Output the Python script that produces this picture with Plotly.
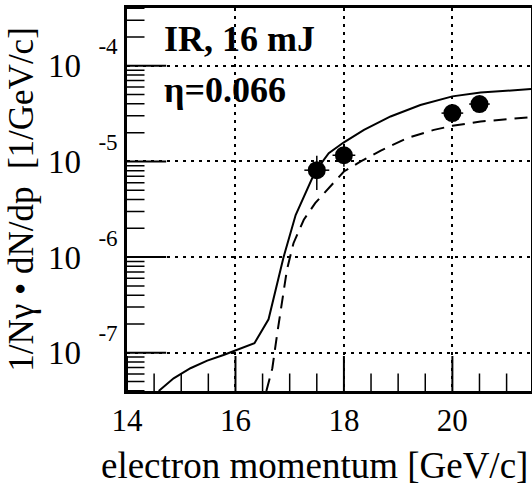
import plotly.graph_objects as go

# ---- data ----
solid_x = [14.585, 14.86, 15.17, 15.48, 15.78, 16.0, 16.35, 16.61, 16.89, 17.11, 17.32,
           17.47, 17.72, 18.0, 18.37, 18.86, 19.41, 20.0, 20.52, 21.45]
solid_logy = [-7.40, -7.267, -7.162, -7.083, -7.023, -6.978, -6.90, -6.65, -5.995, -5.56, -5.297,
              -5.106, -4.913, -4.80, -4.67, -4.53, -4.41, -4.32, -4.28, -4.244]

dash_x = [16.57, 16.68, 16.77, 16.86, 16.95, 17.07, 17.26, 17.47, 17.75, 18.0, 18.31,
          18.68, 19.17, 19.66, 20.0, 20.52, 21.45]
dash_logy = [-7.40, -7.162, -6.80, -6.45, -6.13, -5.855, -5.61, -5.436, -5.26, -5.105, -5.00,
             -4.886, -4.756, -4.67, -4.628, -4.583, -4.537]

pts_x = [17.5, 18.0, 20.0, 20.5]
pts_y = [8.1e-6, 1.16e-5, 3.2e-5, 3.98e-5]
pts_xerr = [0.23, 0.21, 0.2, 0.19]
pts_yerr_plus = [3.35e-6, 3.7e-6, 7.0e-6, 8.6e-6]
pts_yerr_minus = [3.06e-6, 2.8e-6, 5.8e-6, 7.1e-6]

x_range = [14, 21.45]
ylog_range = [-7.40, -3.396]
x_ticks = [14, 16, 18, 20]
x_minor = [14.5, 15, 15.5, 16.5, 17, 17.5, 18.5, 19, 19.5, 20.5, 21]
y_ticks = [1e-7, 1e-6, 1e-5, 1e-4]
y_exps = ["-7", "-6", "-5", "-4"]
y_minor = [m * 10.0 ** e for e in range(-8, -3) for m in range(2, 10)]

y_ticktext = ["10<sup>\u2002\u2005<span style='baseline-shift:9px'>%s</span></sup>" % e for e in y_exps]
solid_y = [10 ** v for v in solid_logy]
dash_y = [10 ** v for v in dash_logy]
y_bottom = 10 ** ylog_range[0]

FONT = "Liberation Serif"

fig = go.Figure()
fig.add_trace(go.Scatter(x=solid_x, y=solid_y, mode="lines",
                         line=dict(color="black", width=2), showlegend=False))
fig.add_trace(go.Scatter(x=dash_x, y=dash_y, mode="lines",
                         line=dict(color="black", width=2, dash="13px,8px"), showlegend=False))
fig.add_trace(go.Scatter(
    x=pts_x, y=pts_y, mode="markers",
    marker=dict(color="black", size=18),
    error_x=dict(type="data", array=pts_xerr, color="black", thickness=1.5, width=0),
    error_y=dict(type="data", symmetric=False, array=pts_yerr_plus, arrayminus=pts_yerr_minus,
                 color="black", thickness=1.5, width=0),
    showlegend=False))

# inside tick marks along the axes (major and minor), placed through the axis scales
def tick_trace(xs, ys, symbol, size, width):
    return go.Scatter(x=xs, y=ys, mode="markers", cliponaxis=True, showlegend=False,
                      hoverinfo="skip",
                      marker=dict(symbol=symbol, size=size, color="black",
                                  line=dict(color="black", width=width)))

fig.add_trace(tick_trace(x_ticks, [y_bottom] * len(x_ticks), "line-ns", 50, 2))
fig.add_trace(tick_trace(x_minor, [y_bottom] * len(x_minor), "line-ns", 25, 1.5))
fig.add_trace(tick_trace([x_range[0]] * len(y_ticks), y_ticks, "line-ew", 56, 2))
fig.add_trace(tick_trace([x_range[0]] * len(y_minor), y_minor, "line-ew", 25, 1.5))

fig.add_annotation(x=14.65, y=-3.718, xref="x", yref="y", text="<b>IR, 16 mJ</b>",
                   showarrow=False, xanchor="left", yanchor="middle",
                   font=dict(family=FONT, size=36, color="black"))
fig.add_annotation(x=14.65, y=-4.25, xref="x", yref="y", text="<b>η=0.066</b>",
                   showarrow=False, xanchor="left", yanchor="middle",
                   font=dict(family=FONT, size=36, color="black"))
fig.add_annotation(x=0.465, y=-0.135, xref="paper", yref="paper", yanchor="top",
                   text="electron momentum [GeV/c]", showarrow=False,
                   font=dict(family=FONT, size=37, color="black"))

fig.update_layout(
    width=532, height=493,
    margin=dict(l=127, r=1, t=8, b=102),
    paper_bgcolor="white", plot_bgcolor="white",
    font=dict(family=FONT, color="black"),
    xaxis=dict(
        range=x_range, tickmode="array", tickvals=x_ticks, ticks="",
        tickfont=dict(family=FONT, size=31, color="black"), ticklabelstandoff=0,
        showline=True, linecolor="black", linewidth=2.5, mirror=True,
        showgrid=True, gridcolor="black", gridwidth=2, griddash="3px,5px",
        zeroline=False, automargin=False,
    ),
    yaxis=dict(
        type="log", range=ylog_range, tickmode="array", tickvals=y_ticks, ticktext=y_ticktext,
        ticks="", tickfont=dict(family=FONT, size=33, color="black"),
        showline=True, linecolor="black", linewidth=2.5, mirror=True,
        showgrid=True, gridcolor="black", gridwidth=2, griddash="3px,5px",
        zeroline=False,
        title=dict(text="1/Nγ • dN/dp  [1/GeV/c]", font=dict(family=FONT, size=35, color="black"),
                   standoff=4),
        automargin=False,
    ),
)

fig.write_html("out.html")
